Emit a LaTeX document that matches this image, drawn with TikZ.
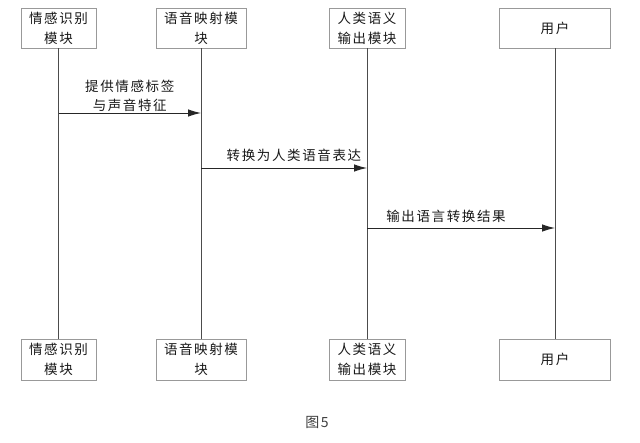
\documentclass[tikz,border=0pt]{standalone}
\usepackage{fontspec}
\newfontfamily\cjk[LetterSpace=12]{Noto Sans CJK SC}
\usetikzlibrary{arrows.meta}
\begin{document}
\begin{tikzpicture}[x=1pt,y=-1pt,
    box/.style={draw=black!40,line width=0.9pt,minimum height=40,inner sep=0,align=center,text=black!90,font=\cjk\fontsize{13.5}{20}\selectfont},
    life/.style={draw=black!70,line width=1pt},
    msg/.style={draw=black!85,line width=0.9pt,-{Latex[length=13pt,width=7.5pt]}},
    lbl/.style={align=center,inner sep=0,text=black!90,font=\cjk\fontsize{13.5}{18.5}\selectfont}]
    \useasboundingbox[fill=white] (0,0) rectangle (640,442);
    % kopf der lebenslinien
    \node[box,minimum width=75] at (58.5,28) (sens) {情感识别\\模块};
    \node[box,minimum width=90] at (201,28) (map) {语音映射模\\块};
    \node[box,minimum width=76] at (367,28) (out) {人类语义\\输出模块};
    \node[box,minimum width=111] at (555,28) (user) {用户};
    % fuss
    \node[box,minimum width=75,minimum height=41] at (58.5,359.5) (sensB) {情感识别\\模块};
    \node[box,minimum width=90,minimum height=41] at (201,359.5) (mapB) {语音映射模\\块};
    \node[box,minimum width=76,minimum height=41] at (367,359.5) (outB) {人类语义\\输出模块};
    \node[box,minimum width=111,minimum height=41] at (555,359.5) (userB) {用户};
    \path[life] (sens) edge (sensB)
        (map) edge (mapB)
        (out) edge (outB)
        (user) edge (userB);
    \coordinate (m1s) at (sens |- 0,113);
    \coordinate (m1e) at (map |- 0,113);
    \coordinate (m2s) at (map |- 0,168);
    \coordinate (m2e) at (out |- 0,168);
    \coordinate (m3s) at (out |- 0,228);
    \coordinate (m3e) at (user |- 0,228);
    \path (m1s) edge[msg] node[lbl,above=1pt] {提供情感标签\\与声音特征} (m1e);
    \path (m2s) edge[msg] node[lbl,above=6pt,pos=0.56] {转换为人类语音表达} (m2e);
    \path (m3s) edge[msg] node[lbl,above=5pt,pos=0.42] {输出语言转换结果} (m3e);
    \node[text=black!75,font=\cjk\fontsize{14}{14}\selectfont] at (317,422) (cap) {图5};
\end{tikzpicture}
\end{document}
